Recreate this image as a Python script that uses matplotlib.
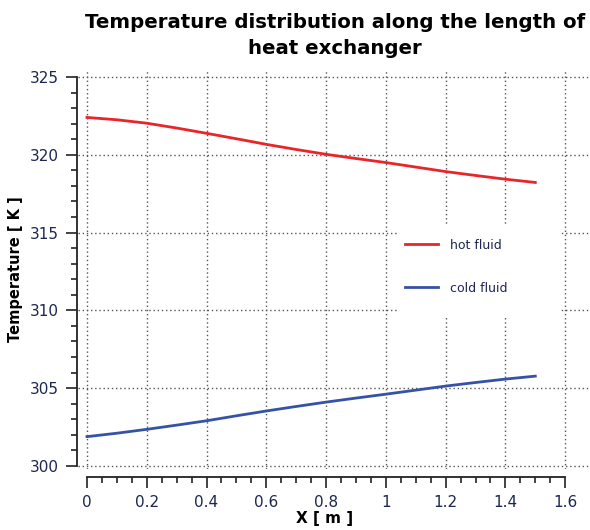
import matplotlib
matplotlib.use("Agg")
import matplotlib.pyplot as plt
from matplotlib.patches import Rectangle
from matplotlib.ticker import FixedLocator

# distance along exchanger (m) and temperatures (K)
x_m = [0.0, 0.1, 0.2, 0.3, 0.4, 0.5, 0.6, 0.7, 0.8, 0.9, 1.0, 1.1, 1.2, 1.3, 1.4, 1.5]
hot_fluid = [322.40, 322.25, 322.03, 321.72, 321.38, 321.03, 320.67, 320.34,
             320.03, 319.76, 319.50, 319.21, 318.92, 318.67, 318.43, 318.22]
cold_fluid = [301.88, 302.10, 302.35, 302.62, 302.90, 303.22, 303.53, 303.82,
              304.10, 304.36, 304.61, 304.87, 305.13, 305.36, 305.58, 305.77]

x_ticks = [0, 0.2, 0.4, 0.6, 0.8, 1.0, 1.2, 1.4, 1.6]
x_tick_labels = ["0", "0.2", "0.4", "0.6", "0.8", "1", "1.2", "1.4", "1.6"]
y_ticks = [300, 305, 310, 315, 320, 325]

tick_col = "#1c2650"

fig = plt.figure(figsize=(5.9, 5.3), dpi=100)
ax = fig.add_axes([78 / 590, 1 - 469 / 530, 1 - 78 / 590, (469 - 70) / 530])

ax.plot(x_m, hot_fluid, color="#e8262a", lw=2.0, label="hot fluid", zorder=3)
ax.plot(x_m, cold_fluid, color="#3553a6", lw=2.0, label="cold fluid", zorder=3)

ax.set_xlim(-0.03, 1.683)
ax.set_ylim(299.8, 325.45)
ax.set_xticks(x_ticks)
ax.set_xticklabels(x_tick_labels)
ax.set_yticks(y_ticks)
ax.xaxis.set_minor_locator(FixedLocator([i * 0.05 for i in range(33) if i % 4]))
ax.yaxis.set_minor_locator(FixedLocator([300 + i for i in range(26) if i % 5]))

ax.grid(True, which="major", linestyle=(0, (1, 2)), color="#555555", lw=1.0)
ax.set_axisbelow(True)

for s in ("top", "right"):
    ax.spines[s].set_visible(False)
ax.spines["left"].set_bounds(300, 325)
ax.spines["bottom"].set_bounds(0, 1.6)
ax.spines["bottom"].set_position(("outward", 6))
ax.spines["left"].set_position(("outward", 1))
for s in ("left", "bottom"):
    ax.spines[s].set_linewidth(1.3)
    ax.spines[s].set_color("#222222")

ax.tick_params(which="major", length=8, width=1.2, color="#222222",
               labelsize=11, labelcolor=tick_col, pad=5)
ax.tick_params(which="minor", length=4.5, width=1.2, color="#222222")

# white block behind legend hides the grid there
ax.add_patch(Rectangle((1.039, 309.55), 0.544, 6.0, facecolor="white",
                       edgecolor="none", zorder=1.6))
ax.legend(loc="center", bbox_to_anchor=(1.236, 312.8),
          bbox_transform=ax.transData, frameon=False, fontsize=9,
          labelspacing=2.4, handlelength=2.6, handletextpad=1.0,
          labelcolor=tick_col)

ax.set_xlabel("X [ m ]", fontsize=11, fontweight="bold")
ax.xaxis.set_label_coords((325 - 78) / 512, -42 / 399)
ax.set_ylabel("Temperature [ K ]", fontsize=10.5, fontweight="bold", labelpad=5)
fig.suptitle("Temperature distribution along the length of\nheat exchanger",
             x=335 / 590, y=0.975, fontsize=14.2, fontweight="bold",
             linespacing=1.45)

plt.savefig("out.png", dpi=100)
